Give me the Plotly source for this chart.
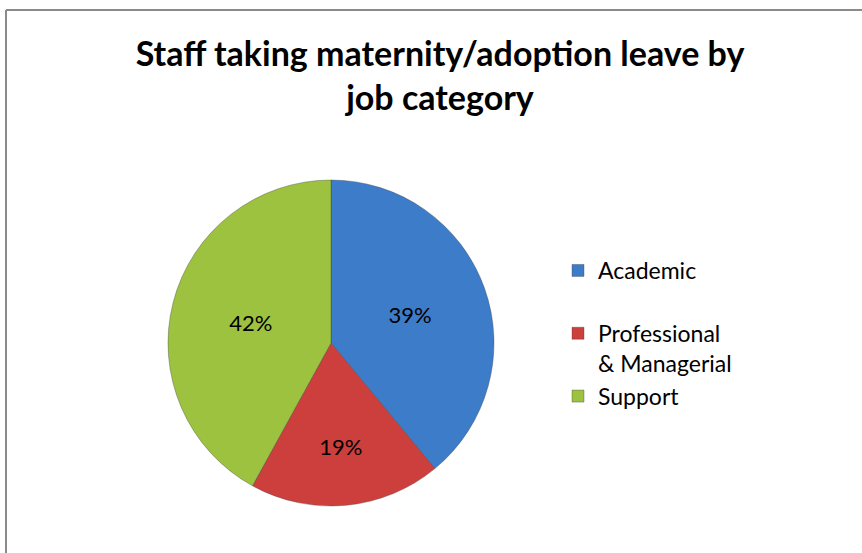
import plotly.graph_objects as go

categories = ["Academic<br> ", "Professional<br>& Managerial", "Support"]
values = [39, 19, 42]
colors = ["#3D7CC9", "#CC3F3D", "#9CC23F"]

W, H = 862, 553

fig = go.Figure()
fig.add_trace(go.Pie(
    labels=categories,
    values=values,
    sort=False,
    direction="clockwise",
    rotation=0,
    marker=dict(colors=colors, line=dict(color="rgba(60,60,60,0.35)", width=1)),
    textinfo="percent",
    texttemplate="%{percent:.0%}",
    textposition="inside",
    insidetextorientation="horizontal",
    textfont=dict(family="Lato, Open Sans, sans-serif", size=22, color="#000000"),
    domain=dict(x=[(331 - 163) / W, (331 + 163) / W], y=[(H - 506) / H, (H - 180) / H]),
    showlegend=True,
))

fig.update_layout(
    width=W, height=H,
    margin=dict(l=0, r=0, t=0, b=0),
    paper_bgcolor="white",
    plot_bgcolor="white",
    title=dict(
        text="<b>Staff taking maternity/adoption leave by<br>job category</b>",
        x=440 / W, xanchor="center",
        y=1 - 66 / H, yanchor="top",
        font=dict(family="Lato, Open Sans, sans-serif", size=34, color="#000000"),
    ),
    legend=dict(
        x=558 / W, xanchor="left",
        y=1 - 249 / H, yanchor="top",
        font=dict(family="Lato, Open Sans, sans-serif", size=23, color="#000000"),
        valign="top",
        itemwidth=30,
        bgcolor="rgba(0,0,0,0)",
    ),
    shapes=[
        dict(type="line", xref="paper", yref="paper",
             x0=6 / W, x1=1.0, y0=1 - 10 / H, y1=1 - 10 / H,
             line=dict(color="#8A8A8A", width=2)),
        dict(type="line", xref="paper", yref="paper",
             x0=6 / W, x1=6 / W, y0=0, y1=1 - 10 / H,
             line=dict(color="#8A8A8A", width=2)),
    ],
)

fig.write_html("out.html")
